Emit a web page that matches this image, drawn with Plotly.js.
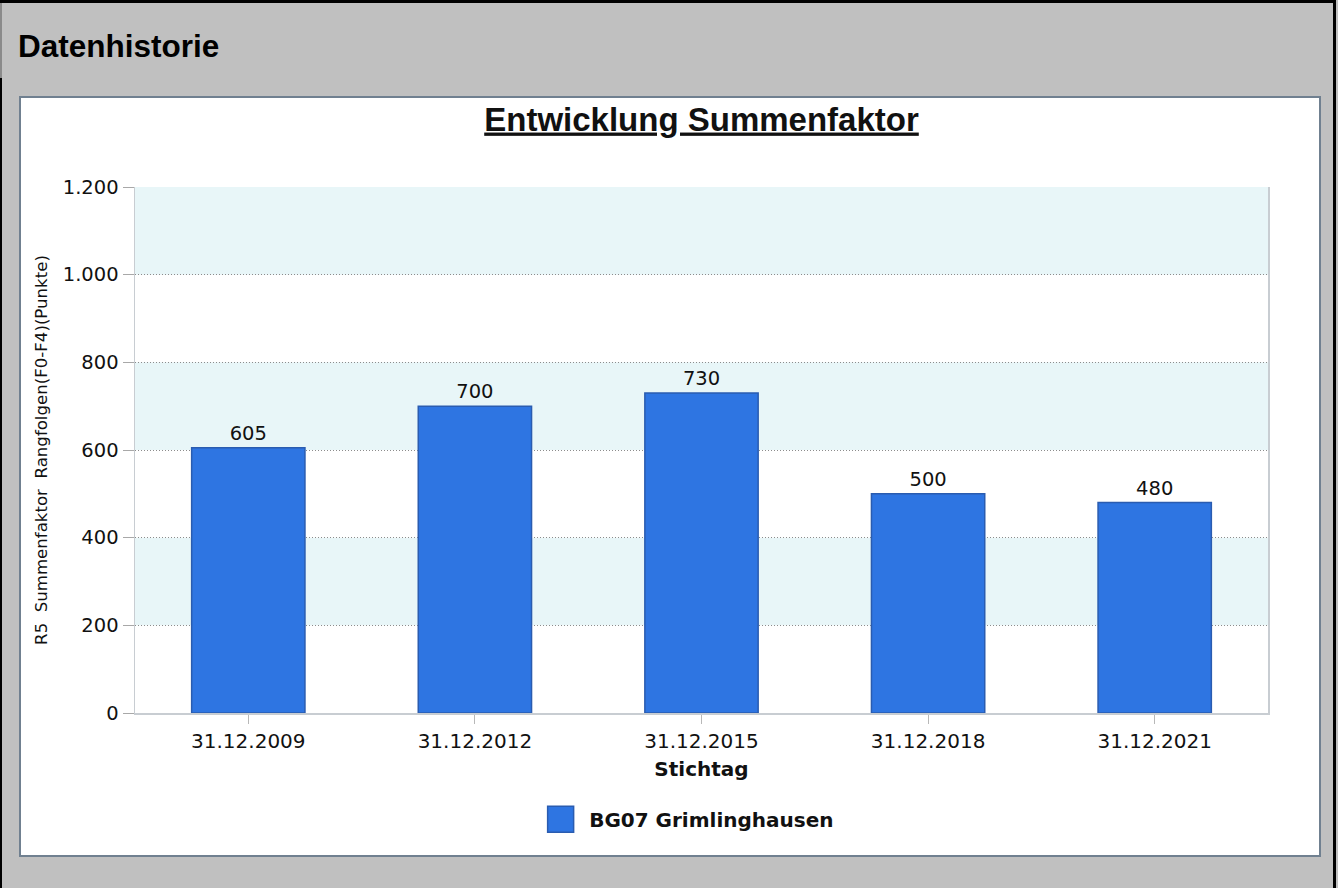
<!DOCTYPE html>
<html>
<head>
<meta charset="utf-8">
<script src="https://cdn.plot.ly/plotly-3.0.1.min.js"></script>
<style>
  html, body { margin: 0; padding: 0; }
  body { width: 1338px; height: 888px; background: #c0c0c0; position: relative; overflow: hidden; }
  #frame { position: absolute; left: 0; top: 0; width: 1336px; height: 900px; border-top: 3px solid #000; border-right: 3px solid #000; border-left: 2px solid #000; box-sizing: border-box; }
  #frameTopLeft { position: absolute; left: 0; top: 3px; width: 2px; height: 75px; background: #8a8a8a; }
  #heading { position: absolute; left: 18px; top: 27px; font-family: "Liberation Sans", Arial, sans-serif; font-weight: bold; font-size: 31.5px; color: #000; line-height: 38px; }
  #chart { position: absolute; left: 19px; top: 96px; width: 1298px; height: 757px; border: 2px solid #708090; background: #fff; }
</style>
</head>
<body>
<div id="frame"></div>
<div id="frameTopLeft"></div>
<div id="heading">Datenhistorie</div>
<div id="chart"></div>
<script>
// ---- data ----
var categories = ['31.12.2009', '31.12.2012', '31.12.2015', '31.12.2018', '31.12.2021'];
var values = [605, 700, 730, 500, 480];
var seriesName = 'BG07 Grimlinghausen';
var yTickValues = [0, 200, 400, 600, 800, 1000, 1200];
var yTickLabels = ['0', '200', '400', '600', '800', '1.000', '1.200'];
var chartTitle = 'Entwicklung Summenfaktor';
var xTitle = 'Stichtag';
var yTitle = 'R5  Summenfaktor  Rangfolgen(F0-F4)(Punkte)';

// alternating background bands between gridlines (every second interval)
var shapes = [];
for (var i = 1; i < yTickValues.length - 1; i += 2) {
  shapes.push({
    type: 'rect', xref: 'paper', yref: 'y', x0: 0, x1: 1,
    y0: yTickValues[i], y1: yTickValues[i + 1],
    fillcolor: '#e8f6f8', line: { width: 0 }, layer: 'below'
  });
}

var FONT = 'DejaVu Sans, Verdana, sans-serif';

var trace = {
  type: 'bar',
  x: categories,
  y: values,
  name: seriesName,
  width: 0.5,
  marker: { color: '#2e75e2', line: { color: '#2a5cb0', width: 1.5 } },
  text: values.map(String),
  textposition: 'outside',
  textfont: { family: FONT, size: 19.5, color: '#111' },
  cliponaxis: false,
  hoverinfo: 'x+y'
};

var layout = {
  width: 1298,
  height: 757,
  margin: { l: 114, r: 51, t: 89, b: 142 },
  paper_bgcolor: '#ffffff',
  plot_bgcolor: '#ffffff',
  showlegend: true,
  title: {
    text: '<b><u>' + chartTitle + '</u></b>',
    font: { family: 'Liberation Sans, Arial, sans-serif', size: 33, color: '#111' },
    x: 0.5, xref: 'paper', xanchor: 'center',
    y: 1 - 21 / 757, yref: 'container', yanchor: 'middle'
  },
  xaxis: {
    type: 'category',
    tickfont: { family: FONT, size: 20, color: '#111' },
    ticks: 'outside', ticklen: 9, tickcolor: '#b8b8b8', tickwidth: 1,
    showline: true, linecolor: '#c8cdd2', linewidth: 1.5,
    showgrid: false, zeroline: false,
    title: { text: '<b>' + xTitle + '</b>', font: { family: FONT, size: 20, color: '#111' }, standoff: 10 }
  },
  yaxis: {
    range: [0, 1200],
    tickmode: 'array', tickvals: yTickValues, ticktext: yTickLabels,
    tickfont: { family: FONT, size: 19.5, color: '#111' },
    ticks: 'outside', ticklen: 11, tickcolor: '#a8a8a8', tickwidth: 1,
    showgrid: true, gridcolor: '#8c8c8c', griddash: '1px,2px', gridwidth: 1,
    showline: true, mirror: true, linecolor: '#c8cdd2', linewidth: 1.5,
    zeroline: false,
    title: { text: yTitle, font: { family: FONT, size: 16.6, color: '#111' }, standoff: 11 }
  },
  legend: {
    orientation: 'h', x: 0.486, xanchor: 'center', y: -0.165, yanchor: 'top',
    itemwidth: 47,
    font: { family: FONT, size: 20, color: '#111', weight: 'bold' },
    bgcolor: 'rgba(0,0,0,0)'
  },
  shapes: shapes,
  bargap: 0.5
};

Plotly.newPlot('chart', [trace], layout, { displayModeBar: false, staticPlot: true }).then(function (gd) {
  // enlarge legend swatch to match the reference's big square
  var pts = gd.querySelectorAll('.legend .legendpoints path');
  pts.forEach(function (p) {
    p.setAttribute('d', 'M13,13H-13V-13H13Z');
  });
});
</script>
</body>
</html>
